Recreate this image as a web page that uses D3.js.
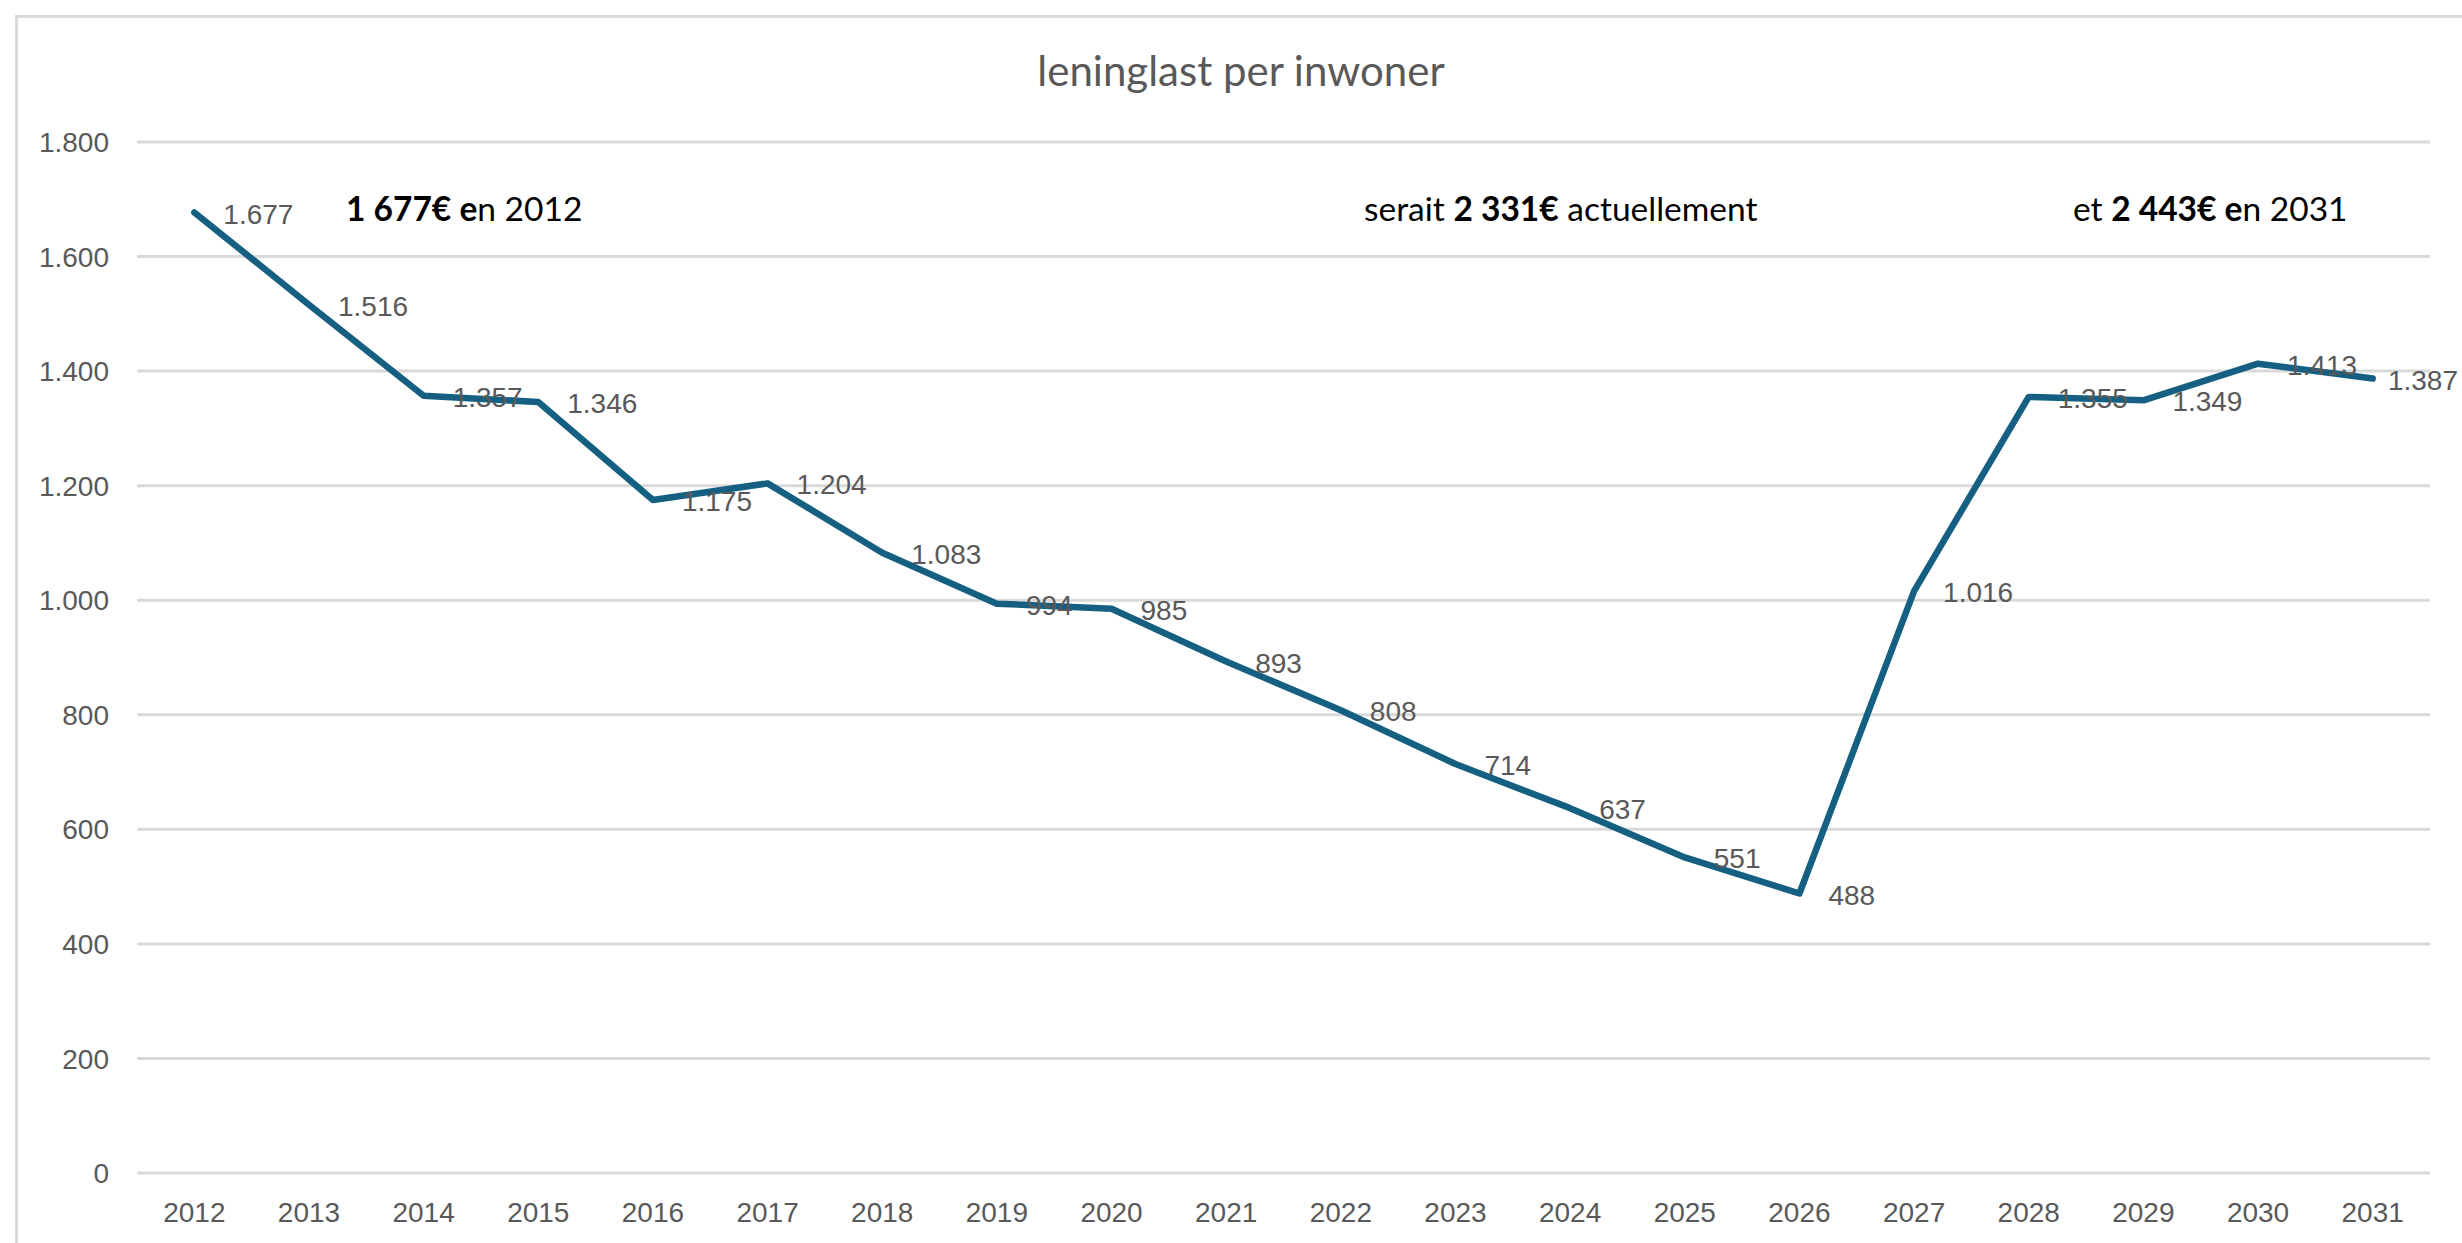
<!DOCTYPE html>
<html><head><meta charset="utf-8">
<script src="https://cdn.jsdelivr.net/npm/d3@7"></script>
<style>html,body{margin:0;padding:0;background:#fff;}svg{display:block;}</style>
</head><body>
<svg id="chart" width="2462" height="1243"></svg>
<script>
const years = ["2012","2013","2014","2015","2016","2017","2018","2019","2020","2021","2022","2023","2024","2025","2026","2027","2028","2029","2030","2031"];
const values = [1677,1516,1357,1346,1175,1204,1083,994,985,893,808,714,637,551,488,1016,1355,1349,1413,1387];
const yTicks = [0,200,400,600,800,1000,1200,1400,1600,1800];
const title = "leninglast per inwoner";
const annotations = [
  {year:"2014", parts:[["1 677€ e",true],["n 2012",false]]},
  {year:"2023", parts:[["serait ",false],["2 331€",true],[" actuellement",false]]},
  {year:"2029", parts:[["et ",false],["2 443€ e",true],["n 2031",false]]}
];

const svg = d3.select("#chart");
const fmt = v => d3.format(",")(v).replace(/,/g, ".");

const x = d3.scaleBand().domain(years).range([137, 2430]);
const y = d3.scaleLinear().domain([0, 1800]).range([1173, 142]);
const cx = d => x(d) + x.bandwidth()/2;

// border
svg.append("path").attr("d", "M16.5,1243 L16.5,16.5 L2462,16.5")
  .attr("fill","none").attr("stroke","#d9d9d9").attr("stroke-width",3);

// gridlines
svg.append("g").selectAll("line").data(yTicks).join("line")
  .attr("x1",137).attr("x2",2430).attr("y1",d=>y(d)).attr("y2",d=>y(d))
  .attr("stroke","#d9d9d9").attr("stroke-width",3);

// y axis labels
svg.append("g").selectAll("text").data(yTicks).join("text")
  .attr("x",109).attr("y",d=>y(d)).attr("dy","0.36em").attr("text-anchor","end")
  .attr("font-family","'Liberation Sans', Arial, sans-serif").attr("font-size",28).attr("fill","#595959")
  .text(d=>fmt(d));

// x axis labels
svg.append("g").selectAll("text").data(years).join("text")
  .attr("x",d=>cx(d)).attr("y",1222).attr("text-anchor","middle")
  .attr("font-family","'Liberation Sans', Arial, sans-serif").attr("font-size",28).attr("fill","#595959")
  .text(d=>d);

// title
svg.append("text").attr("x",1241).attr("y",86).attr("text-anchor","middle")
  .attr("font-family","Lato, 'Open Sans', sans-serif").attr("font-weight",400).attr("font-size",42).attr("fill","#595959")
  .text(title);

// line
const line = d3.line().x((d,i)=>cx(years[i])).y(d=>y(d));
svg.append("path").datum(values).attr("d",line)
  .attr("fill","none").attr("stroke","#156082").attr("stroke-width",6.5)
  .attr("stroke-linejoin","round").attr("stroke-linecap","round");

// data labels (kept inside the chart area like the original)
svg.append("g").selectAll("text").data(values).join("text")
  .attr("y",d=>y(d)+1).attr("dy","0.36em")
  .attr("font-family","'Liberation Sans', Arial, sans-serif").attr("font-size",28).attr("fill","#595959")
  .text(d=>fmt(d))
  .each(function(d,i){
    const w = this.getComputedTextLength();
    const px = Math.min(cx(years[i]) + 29, 2458 - w);
    d3.select(this).attr("x", px);
  });

// annotations
const annX = {"2014":346, "2023":1364, "2029":2073};
annotations.forEach(a=>{
  const t = svg.append("text").attr("x", annX[a.year]).attr("y",221)
    .attr("font-family","Lato, 'Open Sans', sans-serif").attr("font-size",33.5).attr("fill","#000");
  a.parts.forEach(p=>{
    t.append("tspan").attr("font-weight", p[1] ? 700 : 400).text(p[0]);
  });
});
</script>
</body></html>
